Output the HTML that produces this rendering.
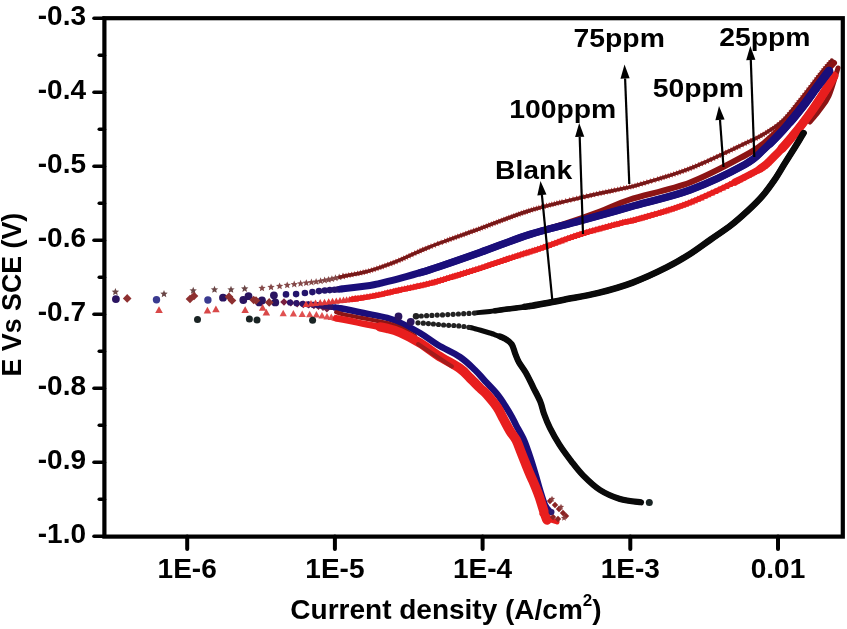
<!DOCTYPE html>
<html><head><meta charset="utf-8"><style>
html,body{margin:0;padding:0;background:#fff;}
svg{display:block;filter:blur(0.45px)}
.t{font-family:"Liberation Sans",sans-serif;font-weight:bold;font-size:28px;fill:#000}
.s{font-family:"Liberation Sans",sans-serif;font-weight:bold;font-size:26px;fill:#000}
</style></head><body>
<svg width="847" height="629" viewBox="0 0 847 629">
<path d="M284.0,298.2L287.8,302.0L284.0,305.8L280.2,302.0Z" fill="#7a2040"/>
<path d="M290.8,299.0L294.6,302.8L290.8,306.6L286.9,302.8Z" fill="#7a2040"/>
<path d="M297.2,299.9L301.0,303.7L297.2,307.5L293.4,303.7Z" fill="#7a2040"/>
<path d="M303.3,300.6L307.1,304.4L303.3,308.2L299.5,304.4Z" fill="#7a2040"/>
<path d="M308.7,301.0L312.5,304.8L308.7,308.6L304.9,304.8Z" fill="#7a2040"/>
<path d="M313.9,301.6L317.7,305.4L313.9,309.2L310.1,305.4Z" fill="#7a2040"/>
<path d="M318.5,302.4L322.3,306.2L318.5,310.0L314.7,306.2Z" fill="#7a2040"/>
<path d="M323.0,303.5L326.8,307.3L323.0,311.1L319.2,307.3Z" fill="#7a2040"/>
<path d="M326.9,304.9L330.7,308.7L326.9,312.5L323.1,308.7Z" fill="#7a2040"/>
<circle cx="290.0" cy="302.5" r="3.1" fill="#2e1468"/>
<circle cx="296.4" cy="303.2" r="3.1" fill="#2e1468"/>
<circle cx="302.7" cy="303.8" r="3.1" fill="#2e1468"/>
<circle cx="308.0" cy="304.3" r="3.1" fill="#2e1468"/>
<circle cx="313.0" cy="304.8" r="3.1" fill="#2e1468"/>
<circle cx="317.8" cy="305.2" r="3.1" fill="#2e1468"/>
<circle cx="322.1" cy="305.7" r="3.1" fill="#2e1468"/>
<circle cx="325.6" cy="306.2" r="3.1" fill="#2e1468"/>
<circle cx="329.0" cy="306.6" r="3.1" fill="#2e1468"/>
<circle cx="331.9" cy="307.0" r="3.1" fill="#2e1468"/>
<circle cx="334.8" cy="307.5" r="3.1" fill="#2e1468"/>
<circle cx="337.9" cy="307.9" r="3.1" fill="#2e1468"/>
<circle cx="341.1" cy="308.5" r="3.1" fill="#2e1468"/>
<circle cx="343.9" cy="309.0" r="3.1" fill="#2e1468"/>
<path d="M336.0,307.6C337.3,307.8 338.6,308.1 340.0,308.3C347.3,309.6 355.7,311.4 363.6,313.0C371.5,314.6 381.1,316.2 387.2,317.8C393.3,319.4 394.5,320.2 400.0,322.7C405.5,325.2 413.7,329.3 420.0,333.0C426.3,336.7 431.3,341.0 438.0,345.0C444.7,349.0 453.8,352.8 460.0,357.0C466.2,361.2 470.8,366.0 475.0,370.0C479.2,374.0 481.2,376.9 485.0,381.0C488.8,385.1 494.0,390.3 497.5,394.6C501.0,398.9 503.6,403.3 506.0,407.0C508.4,410.7 510.3,414.0 512.0,417.0C513.7,420.0 514.0,421.2 516.0,425.0C518.0,428.8 521.8,435.0 524.0,440.0C526.2,445.0 528.0,450.7 529.5,455.0C531.0,459.3 531.9,462.5 533.0,466.0C534.1,469.5 534.8,472.0 536.0,476.0C537.2,480.0 538.5,485.2 540.0,490.0C541.5,494.8 543.3,501.3 545.0,505.0C546.7,508.7 549.2,510.8 550.0,512.0" fill="none" stroke="#1a0e7a" stroke-width="6.5" stroke-linejoin="round" stroke-linecap="round"/>
<path d="M336.0,312.2C337.3,312.7 338.6,313.1 340.0,313.5C347.3,315.5 355.8,316.7 363.6,318.3C371.4,319.9 380.9,321.4 387.0,323.0C393.1,324.6 395.3,325.4 400.0,327.6C404.7,329.8 412.5,334.6 415.0,336.0" fill="none" stroke="#8c1414" stroke-width="4" stroke-linejoin="round" stroke-linecap="round"/>
<path d="M283.2,309.7L286.8,316.2L279.6,316.2Z" fill="#e05050"/>
<path d="M293.4,310.1L297.0,316.6L289.8,316.6Z" fill="#e05050"/>
<path d="M302.2,310.6L305.8,317.1L298.6,317.1Z" fill="#e05050"/>
<path d="M309.7,310.8L313.3,317.3L306.1,317.3Z" fill="#e05050"/>
<path d="M316.4,311.1L320.0,317.6L312.8,317.6Z" fill="#e05050"/>
<path d="M322.0,311.9L325.6,318.4L318.4,318.4Z" fill="#e05050"/>
<path d="M327.0,313.0L330.6,319.4L323.4,319.4Z" fill="#e05050"/>
<path d="M331.3,313.6L334.9,320.1L327.7,320.1Z" fill="#e05050"/>
<path d="M335.0,314.2L338.6,320.7L331.4,320.7Z" fill="#e05050"/>
<path d="M338.2,314.8L341.8,321.3L334.6,321.3Z" fill="#e05050"/>
<path d="M336.0,318.3C337.2,318.5 338.6,318.7 340.0,319.0C346.1,320.1 355.7,322.1 363.6,323.7C371.5,325.3 381.1,326.9 387.2,328.4C393.3,329.9 394.5,330.1 400.0,332.5C405.5,334.9 413.7,339.2 420.0,343.0C426.3,346.8 431.3,351.2 438.0,355.5C444.7,359.8 454.7,364.8 460.0,368.5C465.3,372.2 466.7,374.8 470.0,378.0C473.3,381.2 477.2,385.2 480.0,388.0C482.8,390.8 484.2,391.4 487.0,394.6C489.8,397.8 494.2,402.9 497.0,407.0C499.8,411.1 501.3,415.0 503.5,419.0C505.7,423.0 507.9,427.5 510.0,431.0C512.1,434.5 514.4,436.5 516.2,440.0C518.0,443.5 519.5,448.3 521.0,452.0C522.5,455.7 523.7,458.7 525.0,462.0C526.3,465.3 527.7,468.8 529.0,472.0C530.3,475.2 531.3,477.0 533.0,481.0C534.7,485.0 537.2,490.9 539.0,496.0C540.8,501.1 542.7,507.7 544.0,511.7C545.3,515.7 546.5,518.6 547.0,520.0" fill="none" stroke="#e81e1e" stroke-width="6.5" stroke-linejoin="round" stroke-linecap="round"/>
<path d="M380.0,326.9C382.7,327.4 385.1,327.9 387.2,328.4C393.3,329.9 394.5,330.1 400.0,332.5C405.5,334.9 413.7,339.2 420.0,343.0C426.3,346.8 431.3,351.2 438.0,355.5C444.7,359.8 454.7,364.8 460.0,368.5C465.3,372.2 466.7,374.8 470.0,378.0C473.3,381.2 477.2,385.2 480.0,388.0C482.8,390.8 484.2,391.4 487.0,394.6C489.8,397.8 494.2,402.9 497.0,407.0C499.8,411.1 501.3,415.0 503.5,419.0C505.7,423.0 507.9,427.5 510.0,431.0C512.1,434.5 514.4,436.5 516.2,440.0C518.0,443.5 519.5,448.3 521.0,452.0C522.5,455.7 523.7,458.7 525.0,462.0C526.3,465.3 527.7,468.8 529.0,472.0C530.3,475.2 531.3,477.0 533.0,481.0C534.7,485.0 537.2,490.9 539.0,496.0C540.8,501.1 542.7,507.7 544.0,511.7C545.3,515.7 546.5,518.6 547.0,520.0" fill="none" stroke="#e81e1e" stroke-width="9.5" stroke-linejoin="round" stroke-linecap="round"/>
<path d="M418.0,344.0C421.0,346.0 430.3,352.2 436.0,356.0C441.7,359.8 449.3,364.8 452.0,366.5" fill="none" stroke="#a41c1c" stroke-width="4" stroke-linejoin="round" stroke-linecap="round" />
<polygon points="262.0,284.4 263.0,286.8 265.6,287.0 263.6,288.7 264.2,291.3 262.0,289.9 259.8,291.3 260.4,288.7 258.4,287.0 261.0,286.8" fill="#844848"/>
<polygon points="271.0,283.4 272.1,285.8 274.7,286.0 272.7,287.7 273.3,290.2 271.0,288.9 268.8,290.2 269.4,287.7 267.4,286.0 270.0,285.8" fill="#844848"/>
<polygon points="279.6,282.4 280.6,284.8 283.2,285.0 281.2,286.7 281.9,289.2 279.6,287.9 277.4,289.2 278.0,286.7 276.0,285.0 278.6,284.8" fill="#844848"/>
<polygon points="287.2,281.4 288.2,283.8 290.8,284.1 288.8,285.8 289.5,288.3 287.2,286.9 285.0,288.3 285.6,285.8 283.6,284.1 286.2,283.8" fill="#844848"/>
<polygon points="294.2,280.5 295.2,283.0 297.9,283.2 295.9,284.9 296.5,287.4 294.2,286.0 292.0,287.4 292.6,284.9 290.6,283.2 293.2,283.0" fill="#844848"/>
<polygon points="300.6,279.8 301.6,282.2 304.2,282.4 302.2,284.1 302.9,286.7 300.6,285.3 298.4,286.7 299.0,284.1 297.0,282.4 299.6,282.2" fill="#844848"/>
<polygon points="306.3,279.2 307.3,281.6 309.9,281.8 307.9,283.5 308.5,286.1 306.3,284.7 304.0,286.1 304.6,283.5 302.7,281.8 305.3,281.6" fill="#844848"/>
<polygon points="311.4,278.6 312.4,281.0 315.1,281.2 313.1,282.9 313.7,285.5 311.4,284.1 309.2,285.5 309.8,282.9 307.8,281.2 310.4,281.0" fill="#844848"/>
<polygon points="316.1,278.0 317.1,280.4 319.7,280.6 317.7,282.3 318.3,284.8 316.1,283.5 313.8,284.8 314.4,282.3 312.4,280.6 315.1,280.4" fill="#844848"/>
<polygon points="320.6,277.3 321.6,279.7 324.2,279.9 322.2,281.6 322.8,284.2 320.6,282.8 318.3,284.2 318.9,281.6 316.9,279.9 319.6,279.7" fill="#844848"/>
<polygon points="324.6,276.6 325.6,279.0 328.3,279.2 326.3,280.9 326.9,283.5 324.6,282.1 322.4,283.5 323.0,280.9 321.0,279.2 323.6,279.0" fill="#844848"/>
<polygon points="328.4,275.9 329.4,278.3 332.0,278.6 330.0,280.3 330.6,282.8 328.4,281.4 326.1,282.8 326.7,280.3 324.8,278.6 327.4,278.3" fill="#844848"/>
<polygon points="331.9,275.2 332.9,277.6 335.5,277.8 333.6,279.5 334.2,282.0 331.9,280.7 329.7,282.0 330.3,279.5 328.3,277.8 330.9,277.6" fill="#844848"/>
<polygon points="335.4,274.3 336.4,276.8 339.0,277.0 337.0,278.7 337.7,281.2 335.4,279.8 333.2,281.2 333.8,278.7 331.8,277.0 334.4,276.8" fill="#844848"/>
<polygon points="339.2,273.5 340.2,275.9 342.8,276.1 340.8,277.8 341.4,280.3 339.2,279.0 336.9,280.3 337.5,277.8 335.5,276.1 338.1,275.9" fill="#844848"/>
<polygon points="343.0,272.6 344.0,275.0 346.6,275.2 344.6,276.9 345.2,279.5 343.0,278.1 340.8,279.5 341.4,276.9 339.4,275.2 342.0,275.0" fill="#844848"/>
<polygon points="343.0,273.1 343.9,275.2 346.1,275.4 344.4,276.9 344.9,279.1 343.0,277.9 341.1,279.1 341.6,276.9 339.9,275.4 342.1,275.2" fill="#b03a3a"/>
<polygon points="346.0,272.5 346.9,274.6 349.1,274.8 347.4,276.3 347.9,278.5 346.0,277.3 344.0,278.5 344.6,276.3 342.8,274.8 345.1,274.6" fill="#b03a3a"/>
<polygon points="348.7,272.0 349.6,274.1 351.9,274.2 350.1,275.7 350.7,277.9 348.7,276.8 346.8,277.9 347.3,275.7 345.6,274.2 347.9,274.1" fill="#b03a3a"/>
<polygon points="351.6,271.4 352.5,273.5 354.8,273.7 353.0,275.2 353.6,277.4 351.6,276.2 349.7,277.4 350.2,275.2 348.5,273.7 350.8,273.5" fill="#b03a3a"/>
<polygon points="354.6,270.9 355.5,273.0 357.7,273.1 356.0,274.6 356.5,276.8 354.6,275.6 352.7,276.8 353.2,274.6 351.5,273.1 353.7,273.0" fill="#b03a3a"/>
<polygon points="357.5,270.3 358.4,272.4 360.7,272.6 359.0,274.0 359.5,276.3 357.5,275.1 355.6,276.3 356.1,274.0 354.4,272.6 356.7,272.4" fill="#b03a3a"/>
<polygon points="360.4,269.7 361.3,271.8 363.5,272.0 361.8,273.5 362.3,275.7 360.4,274.5 358.4,275.7 359.0,273.5 357.2,272.0 359.5,271.8" fill="#b03a3a"/>
<polygon points="363.1,269.1 363.9,271.2 366.2,271.4 364.5,272.9 365.0,275.1 363.1,273.9 361.1,275.1 361.6,272.9 359.9,271.4 362.2,271.2" fill="#b03a3a"/>
<polygon points="365.9,268.5 366.8,270.6 369.0,270.8 367.3,272.2 367.8,274.5 365.9,273.3 364.0,274.5 364.5,272.2 362.8,270.8 365.0,270.6" fill="#b03a3a"/>
<polygon points="368.7,267.8 369.6,269.9 371.9,270.0 370.2,271.5 370.7,273.7 368.7,272.5 366.8,273.7 367.3,271.5 365.6,270.0 367.9,269.9" fill="#b03a3a"/>
<polygon points="371.3,267.1 372.1,269.1 374.4,269.3 372.7,270.8 373.2,273.0 371.3,271.8 369.3,273.0 369.9,270.8 368.1,269.3 370.4,269.1" fill="#b03a3a"/>
<polygon points="374.0,266.2 374.8,268.3 377.1,268.5 375.4,270.0 375.9,272.2 374.0,271.0 372.0,272.2 372.6,270.0 370.8,268.5 373.1,268.3" fill="#b03a3a"/>
<polygon points="376.8,265.3 377.7,267.4 379.9,267.6 378.2,269.1 378.7,271.3 376.8,270.1 374.9,271.3 375.4,269.1 373.7,267.6 375.9,267.4" fill="#b03a3a"/>
<polygon points="379.6,264.3 380.4,266.4 382.7,266.6 381.0,268.1 381.5,270.3 379.6,269.1 377.6,270.3 378.2,268.1 376.4,266.6 378.7,266.4" fill="#b03a3a"/>
<polygon points="382.2,263.4 383.1,265.5 385.3,265.7 383.6,267.2 384.1,269.4 382.2,268.2 380.3,269.4 380.8,267.2 379.1,265.7 381.3,265.5" fill="#b03a3a"/>
<polygon points="384.9,262.5 385.7,264.6 388.0,264.8 386.3,266.3 386.8,268.5 384.9,267.3 382.9,268.5 383.5,266.3 381.7,264.8 384.0,264.6" fill="#b03a3a"/>
<polygon points="387.6,261.5 388.5,263.6 390.8,263.8 389.0,265.3 389.6,267.5 387.6,266.3 385.7,267.5 386.2,265.3 384.5,263.8 386.8,263.6" fill="#b03a3a"/>
<polygon points="390.5,260.4 391.4,262.5 393.7,262.7 392.0,264.2 392.5,266.4 390.5,265.2 388.6,266.4 389.1,264.2 387.4,262.7 389.7,262.5" fill="#b03a3a"/>
<polygon points="393.1,259.5 394.0,261.6 396.2,261.7 394.5,263.2 395.0,265.4 393.1,264.2 391.2,265.4 391.7,263.2 390.0,261.7 392.2,261.6" fill="#b03a3a"/>
<polygon points="395.8,258.4 396.7,260.5 399.0,260.7 397.3,262.1 397.8,264.4 395.8,263.2 393.9,264.4 394.4,262.1 392.7,260.7 395.0,260.5" fill="#b03a3a"/>
<polygon points="398.8,257.2 399.6,259.3 401.9,259.5 400.2,261.0 400.7,263.2 398.8,262.0 396.8,263.2 397.4,261.0 395.6,259.5 397.9,259.3" fill="#b03a3a"/>
<polygon points="401.3,256.2 402.1,258.3 404.4,258.5 402.7,259.9 403.2,262.1 401.3,261.0 399.3,262.1 399.8,259.9 398.1,258.5 400.4,258.3" fill="#b03a3a"/>
<polygon points="403.8,255.1 404.6,257.2 406.9,257.4 405.2,258.8 405.7,261.0 403.8,259.9 401.8,261.0 402.4,258.8 400.6,257.4 402.9,257.2" fill="#b03a3a"/>
<polygon points="406.3,253.9 407.2,256.0 409.5,256.2 407.7,257.7 408.3,259.9 406.3,258.7 404.4,259.9 404.9,257.7 403.2,256.2 405.5,256.0" fill="#b03a3a"/>
<polygon points="409.0,252.7 409.8,254.8 412.1,255.0 410.4,256.5 410.9,258.7 409.0,257.5 407.0,258.7 407.6,256.5 405.8,255.0 408.1,254.8" fill="#b03a3a"/>
<polygon points="411.7,251.4 412.6,253.5 414.8,253.7 413.1,255.2 413.6,257.4 411.7,256.2 409.8,257.4 410.3,255.2 408.6,253.7 410.8,253.5" fill="#b03a3a"/>
<polygon points="414.6,250.1 415.5,252.2 417.7,252.4 416.0,253.9 416.5,256.1 414.6,254.9 412.6,256.1 413.2,253.9 411.4,252.4 413.7,252.2" fill="#b03a3a"/>
<polygon points="417.6,248.7 418.5,250.8 420.8,251.0 419.0,252.5 419.6,254.7 417.6,253.5 415.7,254.7 416.2,252.5 414.5,251.0 416.8,250.8" fill="#b03a3a"/>
<polygon points="420.0,247.6 420.9,249.7 423.2,249.9 421.4,251.4 422.0,253.6 420.0,252.4 418.1,253.6 418.6,251.4 416.9,249.9 419.2,249.7" fill="#b03a3a"/>
<polygon points="422.6,246.6 423.4,248.6 425.7,248.8 424.0,250.3 424.5,252.5 422.6,251.3 420.6,252.5 421.1,250.3 419.4,248.8 421.7,248.6" fill="#b03a3a"/>
<polygon points="425.2,245.4 426.1,247.5 428.4,247.7 426.6,249.2 427.2,251.4 425.2,250.2 423.3,251.4 423.8,249.2 422.1,247.7 424.4,247.5" fill="#b03a3a"/>
<polygon points="428.0,244.3 428.9,246.4 431.2,246.6 429.4,248.0 430.0,250.2 428.0,249.1 426.1,250.2 426.6,248.0 424.9,246.6 427.2,246.4" fill="#b03a3a"/>
<polygon points="431.0,243.1 431.9,245.2 434.2,245.4 432.4,246.9 433.0,249.1 431.0,247.9 429.1,249.1 429.6,246.9 427.9,245.4 430.1,245.2" fill="#b03a3a"/>
<polygon points="434.2,241.9 435.1,244.0 437.3,244.2 435.6,245.6 436.1,247.9 434.2,246.7 432.3,247.9 432.8,245.6 431.1,244.2 433.3,244.0" fill="#b03a3a"/>
<polygon points="437.6,240.6 438.4,242.7 440.7,242.9 439.0,244.4 439.5,246.6 437.6,245.4 435.6,246.6 436.1,244.4 434.4,242.9 436.7,242.7" fill="#b03a3a"/>
<polygon points="441.1,239.3 442.0,241.4 444.2,241.6 442.5,243.1 443.0,245.3 441.1,244.1 439.2,245.3 439.7,243.1 438.0,241.6 440.2,241.4" fill="#b03a3a"/>
<polygon points="444.8,238.0 445.6,240.1 447.9,240.2 446.2,241.7 446.7,243.9 444.8,242.7 442.8,243.9 443.4,241.7 441.6,240.2 443.9,240.1" fill="#b03a3a"/>
<polygon points="447.3,237.0 448.2,239.1 450.4,239.3 448.7,240.8 449.2,243.0 447.3,241.8 445.3,243.0 445.9,240.8 444.1,239.3 446.4,239.1" fill="#b03a3a"/>
<polygon points="449.8,236.1 450.7,238.2 453.0,238.4 451.3,239.9 451.8,242.1 449.8,240.9 447.9,242.1 448.4,239.9 446.7,238.4 449.0,238.2" fill="#b03a3a"/>
<polygon points="452.4,235.2 453.3,237.3 455.6,237.5 453.9,238.9 454.4,241.1 452.4,240.0 450.5,241.1 451.0,238.9 449.3,237.5 451.6,237.3" fill="#b03a3a"/>
<polygon points="455.1,234.2 455.9,236.3 458.2,236.5 456.5,238.0 457.0,240.2 455.1,239.0 453.1,240.2 453.7,238.0 451.9,236.5 454.2,236.3" fill="#b03a3a"/>
<polygon points="457.7,233.3 458.6,235.4 460.8,235.6 459.1,237.0 459.7,239.3 457.7,238.1 455.8,239.3 456.3,237.0 454.6,235.6 456.8,235.4" fill="#b03a3a"/>
<polygon points="460.4,232.3 461.2,234.4 463.5,234.6 461.8,236.1 462.3,238.3 460.4,237.1 458.4,238.3 459.0,236.1 457.2,234.6 459.5,234.4" fill="#b03a3a"/>
<polygon points="463.0,231.4 463.9,233.5 466.2,233.7 464.4,235.1 465.0,237.4 463.0,236.2 461.1,237.4 461.6,235.1 459.9,233.7 462.2,233.5" fill="#b03a3a"/>
<polygon points="465.7,230.4 466.6,232.5 468.8,232.7 467.1,234.2 467.6,236.4 465.7,235.2 463.8,236.4 464.3,234.2 462.6,232.7 464.8,232.5" fill="#b03a3a"/>
<polygon points="468.4,229.5 469.2,231.6 471.5,231.8 469.8,233.2 470.3,235.5 468.4,234.3 466.4,235.5 466.9,233.2 465.2,231.8 467.5,231.6" fill="#b03a3a"/>
<polygon points="471.0,228.5 471.9,230.6 474.1,230.8 472.4,232.3 472.9,234.5 471.0,233.3 469.1,234.5 469.6,232.3 467.9,230.8 470.1,230.6" fill="#b03a3a"/>
<polygon points="473.6,227.6 474.5,229.7 476.8,229.9 475.0,231.4 475.6,233.6 473.6,232.4 471.7,233.6 472.2,231.4 470.5,229.9 472.7,229.7" fill="#b03a3a"/>
<polygon points="476.2,226.7 477.1,228.8 479.3,229.0 477.6,230.4 478.1,232.6 476.2,231.5 474.3,232.6 474.8,230.4 473.1,229.0 475.3,228.8" fill="#b03a3a"/>
<polygon points="478.7,225.8 479.6,227.9 481.9,228.0 480.2,229.5 480.7,231.7 478.7,230.5 476.8,231.7 477.3,229.5 475.6,228.0 477.9,227.9" fill="#b03a3a"/>
<polygon points="481.2,224.8 482.1,226.9 484.4,227.1 482.7,228.6 483.2,230.8 481.2,229.6 479.3,230.8 479.8,228.6 478.1,227.1 480.4,226.9" fill="#b03a3a"/>
<polygon points="483.8,223.9 484.6,226.0 486.9,226.2 485.2,227.7 485.7,229.9 483.8,228.7 481.8,229.9 482.3,227.7 480.6,226.2 482.9,226.0" fill="#b03a3a"/>
<polygon points="486.2,223.0 487.1,225.1 489.4,225.3 487.7,226.8 488.2,229.0 486.2,227.8 484.3,229.0 484.8,226.8 483.1,225.3 485.4,225.1" fill="#b03a3a"/>
<polygon points="488.8,222.1 489.6,224.2 491.9,224.3 490.2,225.8 490.7,228.0 488.8,226.8 486.8,228.0 487.3,225.8 485.6,224.3 487.9,224.2" fill="#b03a3a"/>
<polygon points="491.3,221.1 492.1,223.2 494.4,223.4 492.7,224.9 493.2,227.1 491.3,225.9 489.3,227.1 489.8,224.9 488.1,223.4 490.4,223.2" fill="#b03a3a"/>
<polygon points="493.8,220.2 494.6,222.3 496.9,222.4 495.2,223.9 495.7,226.1 493.8,225.0 491.8,226.1 492.3,223.9 490.6,222.4 492.9,222.3" fill="#b03a3a"/>
<polygon points="496.3,219.2 497.1,221.3 499.4,221.5 497.7,223.0 498.2,225.2 496.3,224.0 494.3,225.2 494.8,223.0 493.1,221.5 495.4,221.3" fill="#b03a3a"/>
<polygon points="498.8,218.3 499.6,220.4 501.9,220.5 500.2,222.0 500.7,224.2 498.8,223.1 496.8,224.2 497.3,222.0 495.6,220.5 497.9,220.4" fill="#b03a3a"/>
<polygon points="501.2,217.3 502.1,219.4 504.4,219.6 502.7,221.1 503.2,223.3 501.2,222.1 499.3,223.3 499.8,221.1 498.1,219.6 500.4,219.4" fill="#b03a3a"/>
<polygon points="503.8,216.4 504.6,218.5 506.9,218.7 505.2,220.1 505.7,222.3 503.8,221.2 501.8,222.3 502.3,220.1 500.6,218.7 502.9,218.5" fill="#b03a3a"/>
<polygon points="506.2,215.4 507.1,217.5 509.4,217.7 507.7,219.2 508.2,221.4 506.2,220.2 504.3,221.4 504.8,219.2 503.1,217.7 505.4,217.5" fill="#b03a3a"/>
<polygon points="508.8,214.5 509.6,216.6 511.9,216.8 510.2,218.3 510.7,220.5 508.8,219.3 506.8,220.5 507.3,218.3 505.6,216.8 507.9,216.6" fill="#b03a3a"/>
<polygon points="511.2,213.6 512.1,215.7 514.4,215.9 512.7,217.3 513.2,219.6 511.2,218.4 509.3,219.6 509.8,217.3 508.1,215.9 510.4,215.7" fill="#b03a3a"/>
<polygon points="513.8,212.7 514.6,214.8 516.9,215.0 515.2,216.4 515.7,218.6 513.8,217.5 511.8,218.6 512.3,216.4 510.6,215.0 512.9,214.8" fill="#b03a3a"/>
<polygon points="516.2,211.8 517.1,213.9 519.4,214.1 517.7,215.5 518.2,217.8 516.2,216.6 514.3,217.8 514.8,215.5 513.1,214.1 515.4,213.9" fill="#b03a3a"/>
<polygon points="518.8,210.9 519.6,213.0 521.9,213.2 520.2,214.7 520.7,216.9 518.8,215.7 516.8,216.9 517.3,214.7 515.6,213.2 517.9,213.0" fill="#b03a3a"/>
<polygon points="521.2,210.0 522.1,212.1 524.4,212.3 522.7,213.8 523.2,216.0 521.2,214.8 519.3,216.0 519.8,213.8 518.1,212.3 520.4,212.1" fill="#b03a3a"/>
<polygon points="523.8,209.2 524.6,211.3 526.9,211.5 525.2,213.0 525.7,215.2 523.8,214.0 521.8,215.2 522.3,213.0 520.6,211.5 522.9,211.3" fill="#b03a3a"/>
<polygon points="526.2,208.4 527.1,210.5 529.4,210.7 527.7,212.1 528.2,214.4 526.2,213.2 524.3,214.4 524.8,212.1 523.1,210.7 525.4,210.5" fill="#b03a3a"/>
<polygon points="528.8,207.6 529.6,209.7 531.9,209.9 530.2,211.3 530.7,213.6 528.8,212.4 526.8,213.6 527.3,211.3 525.6,209.9 527.9,209.7" fill="#b03a3a"/>
<polygon points="531.3,206.8 532.1,208.9 534.4,209.1 532.7,210.6 533.2,212.8 531.3,211.6 529.3,212.8 529.8,210.6 528.1,209.1 530.4,208.9" fill="#b03a3a"/>
<polygon points="533.8,206.1 534.6,208.2 536.9,208.3 535.2,209.8 535.7,212.0 533.8,210.8 531.8,212.0 532.4,209.8 530.6,208.3 532.9,208.2" fill="#b03a3a"/>
<polygon points="536.3,205.3 537.2,207.4 539.5,207.6 537.7,209.1 538.3,211.3 536.3,210.1 534.4,211.3 534.9,209.1 533.2,207.6 535.4,207.4" fill="#b03a3a"/>
<polygon points="538.9,204.6 539.7,206.7 542.0,206.9 540.3,208.4 540.8,210.6 538.9,209.4 536.9,210.6 537.5,208.4 535.7,206.9 538.0,206.7" fill="#b03a3a"/>
<polygon points="541.4,203.9 542.3,206.0 544.6,206.2 542.9,207.7 543.4,209.9 541.4,208.7 539.5,209.9 540.0,207.7 538.3,206.2 540.6,206.0" fill="#b03a3a"/>
<polygon points="544.0,203.2 544.9,205.3 547.2,205.5 545.4,207.0 546.0,209.2 544.0,208.0 542.1,209.2 542.6,207.0 540.9,205.5 543.2,205.3" fill="#b03a3a"/>
<polygon points="546.6,202.5 547.5,204.6 549.7,204.8 548.0,206.3 548.5,208.5 546.6,207.3 544.7,208.5 545.2,206.3 543.5,204.8 545.7,204.6" fill="#b03a3a"/>
<polygon points="549.2,201.9 550.1,204.0 552.3,204.1 550.6,205.6 551.1,207.8 549.2,206.7 547.2,207.8 547.8,205.6 546.1,204.1 548.3,204.0" fill="#b03a3a"/>
<polygon points="551.8,201.2 552.6,203.3 554.9,203.5 553.2,205.0 553.7,207.2 551.8,206.0 549.8,207.2 550.4,205.0 548.6,203.5 550.9,203.3" fill="#b03a3a"/>
<polygon points="554.3,200.6 555.2,202.7 557.5,202.9 555.8,204.3 556.3,206.5 554.3,205.4 552.4,206.5 552.9,204.3 551.2,202.9 553.5,202.7" fill="#b03a3a"/>
<polygon points="556.9,200.0 557.8,202.0 560.0,202.2 558.3,203.7 558.8,205.9 556.9,204.7 555.0,205.9 555.5,203.7 553.8,202.2 556.0,202.0" fill="#b03a3a"/>
<polygon points="559.5,199.3 560.3,201.4 562.6,201.6 560.9,203.1 561.4,205.3 559.5,204.1 557.5,205.3 558.0,203.1 556.3,201.6 558.6,201.4" fill="#b03a3a"/>
<polygon points="562.0,198.7 562.9,200.8 565.1,201.0 563.4,202.5 563.9,204.7 562.0,203.5 560.0,204.7 560.6,202.5 558.8,201.0 561.1,200.8" fill="#b03a3a"/>
<polygon points="565.7,197.8 566.6,199.9 568.9,200.1 567.1,201.6 567.7,203.8 565.7,202.6 563.8,203.8 564.3,201.6 562.6,200.1 564.9,199.9" fill="#b03a3a"/>
<polygon points="569.4,197.0 570.3,199.1 572.6,199.3 570.8,200.7 571.4,203.0 569.4,201.8 567.5,203.0 568.0,200.7 566.3,199.3 568.6,199.1" fill="#b03a3a"/>
<polygon points="573.0,196.1 573.9,198.2 576.2,198.4 574.5,199.9 575.0,202.1 573.0,200.9 571.1,202.1 571.6,199.9 569.9,198.4 572.2,198.2" fill="#b03a3a"/>
<polygon points="576.6,195.3 577.4,197.4 579.7,197.6 578.0,199.1 578.5,201.3 576.6,200.1 574.6,201.3 575.2,199.1 573.4,197.6 575.7,197.4" fill="#b03a3a"/>
<polygon points="580.0,194.5 580.9,196.6 583.1,196.8 581.4,198.3 581.9,200.5 580.0,199.3 578.1,200.5 578.6,198.3 576.9,196.8 579.1,196.6" fill="#b03a3a"/>
<polygon points="583.4,193.7 584.2,195.8 586.5,196.0 584.8,197.5 585.3,199.7 583.4,198.5 581.4,199.7 582.0,197.5 580.2,196.0 582.5,195.8" fill="#b03a3a"/>
<polygon points="586.7,192.9 587.6,195.0 589.9,195.2 588.1,196.7 588.7,198.9 586.7,197.7 584.8,198.9 585.3,196.7 583.6,195.2 585.9,195.0" fill="#b03a3a"/>
<polygon points="590.1,192.2 590.9,194.3 593.2,194.5 591.5,196.0 592.0,198.2 590.1,197.0 588.1,198.2 588.7,196.0 586.9,194.5 589.2,194.3" fill="#b03a3a"/>
<polygon points="593.4,191.5 594.2,193.6 596.5,193.8 594.8,195.2 595.3,197.4 593.4,196.3 591.4,197.4 592.0,195.2 590.2,193.8 592.5,193.6" fill="#b03a3a"/>
<polygon points="596.6,190.8 597.5,192.9 599.7,193.1 598.0,194.5 598.6,196.7 596.6,195.6 594.7,196.7 595.2,194.5 593.5,193.1 595.7,192.9" fill="#b03a3a"/>
<polygon points="599.8,190.1 600.7,192.2 602.9,192.4 601.2,193.9 601.7,196.1 599.8,194.9 597.9,196.1 598.4,193.9 596.7,192.4 598.9,192.2" fill="#b03a3a"/>
<polygon points="602.9,189.4 603.8,191.5 606.0,191.7 604.3,193.2 604.8,195.4 602.9,194.2 601.0,195.4 601.5,193.2 599.8,191.7 602.0,191.5" fill="#b03a3a"/>
<polygon points="605.9,188.8 606.8,190.9 609.1,191.1 607.3,192.6 607.9,194.8 605.9,193.6 604.0,194.8 604.5,192.6 602.8,191.1 605.0,190.9" fill="#b03a3a"/>
<polygon points="608.8,188.2 609.7,190.3 612.0,190.5 610.2,192.0 610.8,194.2 608.8,193.0 606.9,194.2 607.4,192.0 605.7,190.5 608.0,190.3" fill="#b03a3a"/>
<polygon points="611.6,187.6 612.5,189.7 614.8,189.9 613.1,191.4 613.6,193.6 611.6,192.4 609.7,193.6 610.2,191.4 608.5,189.9 610.8,189.7" fill="#b03a3a"/>
<polygon points="614.3,187.0 615.2,189.1 617.5,189.3 615.7,190.8 616.3,193.0 614.3,191.8 612.4,193.0 612.9,190.8 611.2,189.3 613.4,189.1" fill="#b03a3a"/>
<polygon points="617.7,186.3 618.5,188.4 620.8,188.6 619.1,190.1 619.6,192.3 617.7,191.1 615.7,192.3 616.3,190.1 614.5,188.6 616.8,188.4" fill="#b03a3a"/>
<polygon points="620.7,185.6 621.6,187.7 623.9,187.9 622.1,189.4 622.7,191.6 620.7,190.4 618.8,191.6 619.3,189.4 617.6,187.9 619.9,187.7" fill="#b03a3a"/>
<polygon points="623.8,185.0 624.7,187.1 626.9,187.3 625.2,188.7 625.7,190.9 623.8,189.8 621.9,190.9 622.4,188.7 620.7,187.3 622.9,187.1" fill="#b03a3a"/>
<polygon points="626.5,184.4 627.4,186.5 629.7,186.7 627.9,188.2 628.5,190.4 626.5,189.2 624.6,190.4 625.1,188.2 623.4,186.7 625.7,186.5" fill="#b03a3a"/>
<polygon points="629.4,183.8 630.2,185.9 632.5,186.1 630.8,187.6 631.3,189.8 629.4,188.6 627.4,189.8 628.0,187.6 626.2,186.1 628.5,185.9" fill="#b03a3a"/>
<polygon points="632.0,183.2 632.9,185.3 635.1,185.5 633.4,187.0 633.9,189.2 632.0,188.0 630.1,189.2 630.6,187.0 628.9,185.5 631.1,185.3" fill="#b03a3a"/>
<polygon points="635.0,182.4 635.8,184.5 638.1,184.7 636.4,186.2 636.9,188.4 635.0,187.2 633.0,188.4 633.6,186.2 631.8,184.7 634.1,184.5" fill="#b03a3a"/>
<polygon points="637.6,181.7 638.5,183.8 640.7,184.0 639.0,185.5 639.5,187.7 637.6,186.5 635.6,187.7 636.2,185.5 634.5,184.0 636.7,183.8" fill="#b03a3a"/>
<polygon points="640.9,180.7 641.8,182.8 644.0,183.0 642.3,184.5 642.8,186.7 640.9,185.5 639.0,186.7 639.5,184.5 637.8,183.0 640.0,182.8" fill="#b03a3a"/>
<polygon points="643.8,179.9 644.6,182.0 646.9,182.2 645.2,183.7 645.7,185.9 643.8,184.7 641.8,185.9 642.4,183.7 640.6,182.2 642.9,182.0" fill="#b03a3a"/>
<polygon points="646.9,179.0 647.8,181.1 650.0,181.3 648.3,182.8 648.8,185.0 646.9,183.8 645.0,185.0 645.5,182.8 643.8,181.3 646.0,181.1" fill="#b03a3a"/>
<polygon points="650.3,178.0 651.1,180.1 653.4,180.3 651.7,181.8 652.2,184.0 650.3,182.8 648.3,184.0 648.9,181.8 647.1,180.3 649.4,180.1" fill="#b03a3a"/>
<polygon points="653.9,177.0 654.7,179.1 657.0,179.3 655.3,180.8 655.8,183.0 653.9,181.8 651.9,183.0 652.4,180.8 650.7,179.3 653.0,179.1" fill="#b03a3a"/>
<polygon points="657.6,175.9 658.5,178.0 660.7,178.2 659.0,179.7 659.5,181.9 657.6,180.7 655.7,181.9 656.2,179.7 654.5,178.2 656.7,178.0" fill="#b03a3a"/>
<polygon points="660.2,175.2 661.1,177.2 663.3,177.4 661.6,178.9 662.1,181.1 660.2,179.9 658.2,181.1 658.8,178.9 657.0,177.4 659.3,177.2" fill="#b03a3a"/>
<polygon points="662.8,174.4 663.7,176.5 666.0,176.6 664.2,178.1 664.8,180.3 662.8,179.1 660.9,180.3 661.4,178.1 659.7,176.6 661.9,176.5" fill="#b03a3a"/>
<polygon points="665.5,173.5 666.4,175.6 668.6,175.8 666.9,177.3 667.4,179.5 665.5,178.3 663.5,179.5 664.1,177.3 662.4,175.8 664.6,175.6" fill="#b03a3a"/>
<polygon points="668.2,172.7 669.1,174.8 671.3,175.0 669.6,176.5 670.1,178.7 668.2,177.5 666.3,178.7 666.8,176.5 665.1,175.0 667.3,174.8" fill="#b03a3a"/>
<polygon points="670.9,171.8 671.8,173.9 674.1,174.1 672.3,175.6 672.9,177.8 670.9,176.6 669.0,177.8 669.5,175.6 667.8,174.1 670.1,173.9" fill="#b03a3a"/>
<polygon points="673.7,171.0 674.6,173.1 676.8,173.2 675.1,174.7 675.6,176.9 673.7,175.7 671.7,176.9 672.3,174.7 670.5,173.2 672.8,173.1" fill="#b03a3a"/>
<polygon points="676.4,170.1 677.3,172.2 679.6,172.3 677.9,173.8 678.4,176.0 676.4,174.8 674.5,176.0 675.0,173.8 673.3,172.3 675.6,172.2" fill="#b03a3a"/>
<polygon points="679.2,169.1 680.1,171.2 682.3,171.4 680.6,172.9 681.1,175.1 679.2,173.9 677.3,175.1 677.8,172.9 676.1,171.4 678.3,171.2" fill="#b03a3a"/>
<polygon points="681.9,168.2 682.8,170.3 685.1,170.5 683.4,171.9 683.9,174.1 681.9,173.0 680.0,174.1 680.5,171.9 678.8,170.5 681.1,170.3" fill="#b03a3a"/>
<polygon points="684.7,167.2 685.5,169.3 687.8,169.5 686.1,171.0 686.6,173.2 684.7,172.0 682.7,173.2 683.3,171.0 681.5,169.5 683.8,169.3" fill="#b03a3a"/>
<polygon points="687.4,166.2 688.2,168.3 690.5,168.5 688.8,170.0 689.3,172.2 687.4,171.0 685.4,172.2 685.9,170.0 684.2,168.5 686.5,168.3" fill="#b03a3a"/>
<polygon points="690.0,165.2 690.9,167.3 693.1,167.5 691.4,169.0 691.9,171.2 690.0,170.0 688.1,171.2 688.6,169.0 686.9,167.5 689.1,167.3" fill="#b03a3a"/>
<polygon points="692.7,164.1 693.6,166.2 695.8,166.4 694.1,167.9 694.6,170.1 692.7,168.9 690.7,170.1 691.3,167.9 689.5,166.4 691.8,166.2" fill="#b03a3a"/>
<polygon points="695.5,163.0 696.3,165.1 698.6,165.3 696.9,166.8 697.4,169.0 695.5,167.8 693.5,169.0 694.0,166.8 692.3,165.3 694.6,165.1" fill="#b03a3a"/>
<polygon points="698.3,161.8 699.2,163.9 701.5,164.1 699.7,165.6 700.3,167.8 698.3,166.6 696.4,167.8 696.9,165.6 695.2,164.1 697.5,163.9" fill="#b03a3a"/>
<polygon points="701.3,160.5 702.1,162.6 704.4,162.8 702.7,164.3 703.2,166.5 701.3,165.3 699.3,166.5 699.8,164.3 698.1,162.8 700.4,162.6" fill="#b03a3a"/>
<polygon points="704.2,159.2 705.1,161.3 707.4,161.5 705.7,163.0 706.2,165.2 704.2,164.0 702.3,165.2 702.8,163.0 701.1,161.5 703.4,161.3" fill="#b03a3a"/>
<polygon points="707.3,157.9 708.1,160.0 710.4,160.2 708.7,161.6 709.2,163.9 707.3,162.7 705.3,163.9 705.9,161.6 704.1,160.2 706.4,160.0" fill="#b03a3a"/>
<polygon points="710.3,156.5 711.2,158.6 713.5,158.8 711.7,160.3 712.3,162.5 710.3,161.3 708.4,162.5 708.9,160.3 707.2,158.8 709.4,158.6" fill="#b03a3a"/>
<polygon points="713.4,155.1 714.2,157.2 716.5,157.4 714.8,158.9 715.3,161.1 713.4,159.9 711.4,161.1 712.0,158.9 710.2,157.4 712.5,157.2" fill="#b03a3a"/>
<polygon points="716.4,153.7 717.3,155.8 719.6,156.0 717.8,157.5 718.4,159.7 716.4,158.5 714.5,159.7 715.0,157.5 713.3,156.0 715.5,155.8" fill="#b03a3a"/>
<polygon points="719.4,152.3 720.3,154.4 722.6,154.6 720.8,156.1 721.4,158.3 719.4,157.1 717.5,158.3 718.0,156.1 716.3,154.6 718.6,154.4" fill="#b03a3a"/>
<polygon points="722.4,150.9 723.3,153.0 725.6,153.2 723.8,154.7 724.4,156.9 722.4,155.7 720.5,156.9 721.0,154.7 719.3,153.2 721.5,153.0" fill="#b03a3a"/>
<polygon points="725.4,149.5 726.2,151.6 728.5,151.8 726.8,153.3 727.3,155.5 725.4,154.3 723.4,155.5 723.9,153.3 722.2,151.8 724.5,151.6" fill="#b03a3a"/>
<polygon points="728.2,148.2 729.1,150.3 731.4,150.5 729.6,151.9 730.2,154.1 728.2,153.0 726.3,154.1 726.8,151.9 725.1,150.5 727.3,150.3" fill="#b03a3a"/>
<polygon points="731.0,146.9 731.9,148.9 734.1,149.1 732.4,150.6 732.9,152.8 731.0,151.6 729.0,152.8 729.6,150.6 727.9,149.1 730.1,148.9" fill="#b03a3a"/>
<polygon points="733.7,145.6 734.5,147.7 736.8,147.9 735.1,149.3 735.6,151.5 733.7,150.4 731.7,151.5 732.3,149.3 730.5,147.9 732.8,147.7" fill="#b03a3a"/>
<polygon points="736.2,144.4 737.1,146.5 739.4,146.6 737.6,148.1 738.2,150.3 736.2,149.1 734.3,150.3 734.8,148.1 733.1,146.6 735.4,146.5" fill="#b03a3a"/>
<polygon points="738.7,143.2 739.5,145.3 741.8,145.5 740.1,147.0 740.6,149.2 738.7,148.0 736.7,149.2 737.2,147.0 735.5,145.5 737.8,145.3" fill="#b03a3a"/>
<polygon points="742.0,141.6 742.9,143.7 745.2,143.9 743.4,145.4 744.0,147.6 742.0,146.4 740.1,147.6 740.6,145.4 738.9,143.9 741.1,143.7" fill="#b03a3a"/>
<polygon points="745.0,140.2 745.9,142.3 748.1,142.5 746.4,144.0 746.9,146.2 745.0,145.0 743.1,146.2 743.6,144.0 741.9,142.5 744.1,142.3" fill="#b03a3a"/>
<polygon points="747.6,139.0 748.5,141.1 750.7,141.3 749.0,142.8 749.5,145.0 747.6,143.8 745.6,145.0 746.2,142.8 744.4,141.3 746.7,141.1" fill="#b03a3a"/>
<polygon points="750.5,137.7 751.3,139.8 753.6,139.9 751.9,141.4 752.4,143.6 750.5,142.4 748.5,143.6 749.1,141.4 747.3,139.9 749.6,139.8" fill="#b03a3a"/>
<polygon points="753.3,136.3 754.2,138.4 756.5,138.6 754.8,140.1 755.3,142.3 753.3,141.1 751.4,142.3 751.9,140.1 750.2,138.6 752.5,138.4" fill="#b03a3a"/>
<polygon points="756.0,135.1 756.9,137.2 759.1,137.4 757.4,138.8 757.9,141.1 756.0,139.9 754.1,141.1 754.6,138.8 752.9,137.4 755.1,137.2" fill="#b03a3a"/>
<polygon points="758.5,133.9 759.3,136.0 761.6,136.1 759.9,137.6 760.4,139.8 758.5,138.7 756.5,139.8 757.0,137.6 755.3,136.1 757.6,136.0" fill="#b03a3a"/>
<polygon points="760.8,132.6 761.6,134.7 763.9,134.9 762.2,136.4 762.7,138.6 760.8,137.4 758.8,138.6 759.4,136.4 757.6,134.9 759.9,134.7" fill="#b03a3a"/>
<polygon points="763.1,131.2 764.0,133.3 766.2,133.5 764.5,135.0 765.0,137.2 763.1,136.0 761.2,137.2 761.7,135.0 760.0,133.5 762.2,133.3" fill="#b03a3a"/>
<polygon points="765.4,129.8 766.3,131.9 768.6,132.1 766.8,133.6 767.4,135.8 765.4,134.6 763.5,135.8 764.0,133.6 762.3,132.1 764.6,131.9" fill="#b03a3a"/>
<polygon points="767.8,128.4 768.7,130.5 770.9,130.7 769.2,132.2 769.7,134.4 767.8,133.2 765.9,134.4 766.4,132.2 764.7,130.7 766.9,130.5" fill="#b03a3a"/>
<polygon points="770.2,127.0 771.0,129.1 773.3,129.3 771.6,130.7 772.1,132.9 770.2,131.8 768.2,132.9 768.8,130.7 767.0,129.3 769.3,129.1" fill="#b03a3a"/>
<polygon points="772.6,125.5 773.4,127.6 775.7,127.7 774.0,129.2 774.5,131.4 772.6,130.2 770.6,131.4 771.1,129.2 769.4,127.7 771.7,127.6" fill="#b03a3a"/>
<polygon points="774.9,123.9 775.8,126.0 778.1,126.1 776.3,127.6 776.9,129.8 774.9,128.6 773.0,129.8 773.5,127.6 771.8,126.1 774.1,126.0" fill="#b03a3a"/>
<polygon points="777.3,122.1 778.2,124.2 780.4,124.4 778.7,125.9 779.2,128.1 777.3,126.9 775.4,128.1 775.9,125.9 774.2,124.4 776.4,124.2" fill="#b03a3a"/>
<polygon points="779.7,120.3 780.5,122.4 782.8,122.5 781.1,124.0 781.6,126.2 779.7,125.0 777.7,126.2 778.3,124.0 776.5,122.5 778.8,122.4" fill="#b03a3a"/>
<polygon points="782.0,118.2 782.9,120.3 785.2,120.5 783.5,121.9 784.0,124.2 782.0,123.0 780.1,124.2 780.6,121.9 778.9,120.5 781.2,120.3" fill="#b03a3a"/>
<polygon points="783.9,116.4 784.8,118.5 787.1,118.7 785.4,120.1 785.9,122.3 783.9,121.2 782.0,122.3 782.5,120.1 780.8,118.7 783.1,118.5" fill="#b03a3a"/>
<polygon points="785.8,114.4 786.7,116.5 789.0,116.7 787.3,118.2 787.8,120.4 785.8,119.2 783.9,120.4 784.4,118.2 782.7,116.7 785.0,116.5" fill="#b03a3a"/>
<polygon points="787.8,112.3 788.6,114.4 790.9,114.6 789.2,116.0 789.7,118.3 787.8,117.1 785.8,118.3 786.3,116.0 784.6,114.6 786.9,114.4" fill="#b03a3a"/>
<polygon points="789.6,110.1 790.5,112.2 792.8,112.3 791.1,113.8 791.6,116.0 789.6,114.8 787.7,116.0 788.2,113.8 786.5,112.3 788.8,112.2" fill="#b03a3a"/>
<polygon points="791.6,107.7 792.4,109.8 794.7,110.0 793.0,111.5 793.5,113.7 791.6,112.5 789.6,113.7 790.1,111.5 788.4,110.0 790.7,109.8" fill="#b03a3a"/>
<polygon points="793.4,105.4 794.3,107.5 796.6,107.6 794.9,109.1 795.4,111.3 793.4,110.1 791.5,111.3 792.0,109.1 790.3,107.6 792.6,107.5" fill="#b03a3a"/>
<polygon points="795.3,102.9 796.2,105.0 798.5,105.2 796.8,106.7 797.3,108.9 795.3,107.7 793.4,108.9 793.9,106.7 792.2,105.2 794.5,105.0" fill="#b03a3a"/>
<polygon points="797.2,100.5 798.1,102.6 800.4,102.8 798.7,104.2 799.2,106.4 797.2,105.3 795.3,106.4 795.8,104.2 794.1,102.8 796.4,102.6" fill="#b03a3a"/>
<polygon points="799.2,98.0 800.0,100.1 802.3,100.3 800.6,101.8 801.1,104.0 799.2,102.8 797.2,104.0 797.7,101.8 796.0,100.3 798.3,100.1" fill="#b03a3a"/>
<polygon points="801.1,95.6 801.9,97.7 804.2,97.9 802.5,99.4 803.0,101.6 801.1,100.4 799.1,101.6 799.6,99.4 797.9,97.9 800.2,97.7" fill="#b03a3a"/>
<polygon points="803.0,93.2 803.8,95.3 806.1,95.5 804.4,97.0 804.9,99.2 803.0,98.0 801.0,99.2 801.5,97.0 799.8,95.5 802.1,95.3" fill="#b03a3a"/>
<polygon points="804.9,90.7 805.8,92.8 808.1,93.0 806.3,94.4 806.9,96.7 804.9,95.5 803.0,96.7 803.5,94.4 801.8,93.0 804.1,92.8" fill="#b03a3a"/>
<polygon points="806.9,88.1 807.8,90.2 810.1,90.4 808.3,91.8 808.9,94.0 806.9,92.9 805.0,94.0 805.5,91.8 803.8,90.4 806.1,90.2" fill="#b03a3a"/>
<polygon points="809.0,85.4 809.8,87.5 812.1,87.7 810.4,89.2 810.9,91.4 809.0,90.2 807.0,91.4 807.6,89.2 805.8,87.7 808.1,87.5" fill="#b03a3a"/>
<polygon points="811.0,82.8 811.9,84.9 814.1,85.0 812.4,86.5 812.9,88.7 811.0,87.5 809.1,88.7 809.6,86.5 807.9,85.0 810.1,84.9" fill="#b03a3a"/>
<polygon points="813.0,80.1 813.9,82.2 816.1,82.4 814.4,83.9 814.9,86.1 813.0,84.9 811.1,86.1 811.6,83.9 809.9,82.4 812.1,82.2" fill="#b03a3a"/>
<polygon points="814.9,77.6 815.8,79.7 818.1,79.8 816.4,81.3 816.9,83.5 814.9,82.3 813.0,83.5 813.5,81.3 811.8,79.8 814.1,79.7" fill="#b03a3a"/>
<polygon points="816.8,75.1 817.7,77.2 820.0,77.4 818.2,78.9 818.8,81.1 816.8,79.9 814.9,81.1 815.4,78.9 813.7,77.4 815.9,77.2" fill="#b03a3a"/>
<polygon points="818.6,72.8 819.5,74.9 821.7,75.1 820.0,76.5 820.5,78.8 818.6,77.6 816.6,78.8 817.2,76.5 815.4,75.1 817.7,74.9" fill="#b03a3a"/>
<polygon points="820.2,70.7 821.1,72.8 823.4,73.0 821.6,74.4 822.2,76.6 820.2,75.5 818.3,76.6 818.8,74.4 817.1,73.0 819.4,72.8" fill="#b03a3a"/>
<polygon points="822.1,68.3 823.0,70.4 825.2,70.6 823.5,72.1 824.0,74.3 822.1,73.1 820.2,74.3 820.7,72.1 819.0,70.6 821.2,70.4" fill="#b03a3a"/>
<polygon points="823.9,66.1 824.8,68.2 827.0,68.4 825.3,69.9 825.8,72.1 823.9,70.9 821.9,72.1 822.5,69.9 820.7,68.4 823.0,68.2" fill="#b03a3a"/>
<polygon points="825.6,64.1 826.4,66.2 828.7,66.4 827.0,67.9 827.5,70.1 825.6,68.9 823.6,70.1 824.1,67.9 822.4,66.4 824.7,66.2" fill="#b03a3a"/>
<polygon points="827.4,62.0 828.3,64.1 830.5,64.3 828.8,65.7 829.3,68.0 827.4,66.8 825.5,68.0 826.0,65.7 824.3,64.3 826.5,64.1" fill="#b03a3a"/>
<polygon points="829.3,59.8 830.2,61.9 832.4,62.1 830.7,63.6 831.2,65.8 829.3,64.6 827.3,65.8 827.9,63.6 826.1,62.1 828.4,61.9" fill="#b03a3a"/>
<polygon points="831.0,57.8 831.9,59.9 834.2,60.1 832.4,61.6 833.0,63.8 831.0,62.6 829.1,63.8 829.6,61.6 827.9,60.1 830.1,59.9" fill="#b03a3a"/>
<path d="M340.0,277.1C340.9,276.8 341.9,276.6 343.0,276.4C349.2,275.1 358.8,273.5 365.0,272.0C371.2,270.5 374.2,269.5 380.0,267.5C385.8,265.5 391.7,263.4 400.0,260.0C408.3,256.6 416.7,252.0 430.0,246.8C443.3,241.6 463.3,234.7 480.0,228.6C496.7,222.5 513.3,215.6 530.0,210.5C546.7,205.4 565.0,201.4 580.0,197.8C595.0,194.2 610.0,191.3 620.0,189.1C630.0,186.8 628.3,187.7 640.0,184.3C651.7,180.9 672.5,175.3 690.0,168.5C707.5,161.7 732.7,149.2 745.0,143.5C757.3,137.8 757.7,137.8 764.0,134.0C770.3,130.2 776.7,126.6 783.0,120.6C789.3,114.5 795.7,105.6 802.0,97.7C808.3,89.8 816.0,79.3 821.0,73.0C826.0,66.7 830.2,62.2 832.0,60.0" fill="none" stroke="#761818" stroke-width="3.4" stroke-linejoin="round" stroke-linecap="round"/>
<path d="M540.0,231.0C544.0,229.9 554.0,227.4 564.0,224.2C574.0,220.9 589.0,215.6 600.0,211.5C611.0,207.4 615.0,204.3 630.0,199.5C645.0,194.7 670.8,189.8 690.0,182.5C709.2,175.2 732.7,162.1 745.0,155.5C757.3,148.9 757.7,148.1 764.0,143.0C770.3,137.9 776.7,131.8 783.0,125.0C789.3,118.2 795.7,110.0 802.0,102.0C808.3,94.0 815.7,83.5 821.0,77.0C826.3,70.5 831.8,65.3 834.0,63.0" fill="none" stroke="#8c1414" stroke-width="6" stroke-linejoin="round" stroke-linecap="round" />
<path d="M810.0,122.0C811.5,120.2 815.8,115.3 819.0,111.0C822.2,106.7 825.8,103.2 829.0,96.0C832.2,88.8 836.5,72.7 838.0,68.0" fill="none" stroke="#8c1414" stroke-width="5" stroke-linejoin="round" stroke-linecap="round" />
<path d="M306.0,300.7L309.5,307.0L302.5,307.0Z" fill="#e03a3a"/>
<path d="M311.0,300.1L314.5,306.4L307.5,306.4Z" fill="#e03a3a"/>
<path d="M315.5,299.6L319.0,305.9L312.0,305.9Z" fill="#e03a3a"/>
<path d="M320.2,299.1L323.7,305.4L316.7,305.4Z" fill="#e03a3a"/>
<path d="M324.5,298.7L328.0,305.0L321.0,305.0Z" fill="#e03a3a"/>
<path d="M328.7,298.2L332.2,304.5L325.2,304.5Z" fill="#e03a3a"/>
<path d="M332.5,297.8L336.0,304.1L329.0,304.1Z" fill="#e03a3a"/>
<path d="M336.3,297.4L339.8,303.7L332.8,303.7Z" fill="#e03a3a"/>
<path d="M340.0,297.0L343.5,303.3L336.5,303.3Z" fill="#e03a3a"/>
<path d="M343.5,296.6L347.0,302.9L340.0,302.9Z" fill="#e03a3a"/>
<path d="M346.6,296.2L350.1,302.5L343.1,302.5Z" fill="#e03a3a"/>
<path d="M349.5,295.9L353.0,302.2L346.0,302.2Z" fill="#e03a3a"/>
<path d="M352.5,295.5L356.0,301.8L349.0,301.8Z" fill="#e03a3a"/>
<path d="M355.5,295.1L359.0,301.4L352.0,301.4Z" fill="#e03a3a"/>
<path d="M352.0,295.6L355.5,301.9L348.5,301.9Z" fill="#e83030"/>
<path d="M355.0,295.1L358.5,301.4L351.5,301.4Z" fill="#e83030"/>
<path d="M358.0,294.7L361.5,301.0L354.5,301.0Z" fill="#e83030"/>
<path d="M361.0,294.3L364.5,300.6L357.5,300.6Z" fill="#e83030"/>
<path d="M364.0,293.8L367.5,300.1L360.5,300.1Z" fill="#e83030"/>
<path d="M367.0,293.3L370.5,299.6L363.5,299.6Z" fill="#e83030"/>
<path d="M370.0,292.7L373.5,299.0L366.5,299.0Z" fill="#e83030"/>
<path d="M373.0,292.2L376.5,298.5L369.5,298.5Z" fill="#e83030"/>
<path d="M376.0,291.6L379.5,297.9L372.5,297.9Z" fill="#e83030"/>
<path d="M379.0,291.0L382.5,297.3L375.5,297.3Z" fill="#e83030"/>
<path d="M382.0,290.4L385.5,296.7L378.5,296.7Z" fill="#e83030"/>
<path d="M384.8,289.8L388.3,296.1L381.3,296.1Z" fill="#e83030"/>
<path d="M387.5,289.1L391.0,295.4L384.0,295.4Z" fill="#e83030"/>
<path d="M390.3,288.5L393.8,294.8L386.8,294.8Z" fill="#e83030"/>
<path d="M393.3,287.8L396.8,294.1L389.8,294.1Z" fill="#e83030"/>
<path d="M395.9,287.2L399.4,293.5L392.4,293.5Z" fill="#e83030"/>
<path d="M398.8,286.5L402.3,292.8L395.3,292.8Z" fill="#e83030"/>
<path d="M401.9,285.8L405.4,292.1L398.4,292.1Z" fill="#e83030"/>
<path d="M404.7,285.2L408.2,291.5L401.2,291.5Z" fill="#e83030"/>
<path d="M407.7,284.6L411.2,290.9L404.2,290.9Z" fill="#e83030"/>
<path d="M410.7,283.9L414.2,290.2L407.2,290.2Z" fill="#e83030"/>
<path d="M413.9,283.3L417.4,289.6L410.4,289.6Z" fill="#e83030"/>
<path d="M417.1,282.6L420.6,288.9L413.6,288.9Z" fill="#e83030"/>
<path d="M420.3,281.9L423.8,288.2L416.8,288.2Z" fill="#e83030"/>
<path d="M423.4,281.2L426.9,287.5L419.9,287.5Z" fill="#e83030"/>
<path d="M426.4,280.5L429.9,286.8L422.9,286.8Z" fill="#e83030"/>
<path d="M429.3,279.8L432.8,286.1L425.8,286.1Z" fill="#e83030"/>
<path d="M432.0,279.1L435.5,285.4L428.5,285.4Z" fill="#e83030"/>
<path d="M434.6,278.4L438.1,284.7L431.1,284.7Z" fill="#e83030"/>
<path d="M437.7,277.5L441.2,283.8L434.2,283.8Z" fill="#e83030"/>
<path d="M440.7,276.6L444.2,282.9L437.2,282.9Z" fill="#e83030"/>
<path d="M443.7,275.7L447.2,282.0L440.2,282.0Z" fill="#e83030"/>
<path d="M446.7,274.8L450.2,281.1L443.2,281.1Z" fill="#e83030"/>
<path d="M449.8,273.8L453.3,280.1L446.3,280.1Z" fill="#e83030"/>
<path d="M452.3,273.0L455.8,279.3L448.8,279.3Z" fill="#e83030"/>
<path d="M455.0,272.2L458.5,278.5L451.5,278.5Z" fill="#e83030"/>
<path d="M457.8,271.4L461.3,277.7L454.3,277.7Z" fill="#e83030"/>
<path d="M460.7,270.5L464.2,276.8L457.2,276.8Z" fill="#e83030"/>
<path d="M463.6,269.6L467.1,275.9L460.1,275.9Z" fill="#e83030"/>
<path d="M466.6,268.6L470.1,274.9L463.1,274.9Z" fill="#e83030"/>
<path d="M469.7,267.7L473.2,274.0L466.2,274.0Z" fill="#e83030"/>
<path d="M472.8,266.7L476.3,273.0L469.3,273.0Z" fill="#e83030"/>
<path d="M475.8,265.8L479.3,272.1L472.3,272.1Z" fill="#e83030"/>
<path d="M478.9,264.8L482.4,271.1L475.4,271.1Z" fill="#e83030"/>
<path d="M482.0,263.8L485.5,270.1L478.5,270.1Z" fill="#e83030"/>
<path d="M485.0,262.8L488.5,269.1L481.5,269.1Z" fill="#e83030"/>
<path d="M488.0,261.8L491.5,268.1L484.5,268.1Z" fill="#e83030"/>
<path d="M491.1,260.8L494.6,267.1L487.6,267.1Z" fill="#e83030"/>
<path d="M494.2,259.8L497.7,266.1L490.7,266.1Z" fill="#e83030"/>
<path d="M497.2,258.7L500.7,265.0L493.7,265.0Z" fill="#e83030"/>
<path d="M500.3,257.7L503.8,264.0L496.8,264.0Z" fill="#e83030"/>
<path d="M503.4,256.6L506.9,262.9L499.9,262.9Z" fill="#e83030"/>
<path d="M506.4,255.6L509.9,261.9L502.9,261.9Z" fill="#e83030"/>
<path d="M509.3,254.6L512.8,260.9L505.8,260.9Z" fill="#e83030"/>
<path d="M512.2,253.6L515.7,259.9L508.7,259.9Z" fill="#e83030"/>
<path d="M515.0,252.7L518.5,259.0L511.5,259.0Z" fill="#e83030"/>
<path d="M517.6,251.9L521.1,258.2L514.1,258.2Z" fill="#e83030"/>
<path d="M520.7,250.9L524.2,257.2L517.2,257.2Z" fill="#e83030"/>
<path d="M523.5,250.0L527.0,256.3L520.0,256.3Z" fill="#e83030"/>
<path d="M526.3,249.1L529.8,255.4L522.8,255.4Z" fill="#e83030"/>
<path d="M529.2,248.3L532.7,254.6L525.7,254.6Z" fill="#e83030"/>
<path d="M532.2,247.3L535.7,253.6L528.7,253.6Z" fill="#e83030"/>
<path d="M534.8,246.5L538.3,252.8L531.3,252.8Z" fill="#e83030"/>
<path d="M537.7,245.5L541.2,251.8L534.2,251.8Z" fill="#e83030"/>
<path d="M540.8,244.4L544.3,250.7L537.3,250.7Z" fill="#e83030"/>
<path d="M543.4,243.5L546.9,249.8L539.9,249.8Z" fill="#e83030"/>
<path d="M546.1,242.6L549.6,248.9L542.6,248.9Z" fill="#e83030"/>
<path d="M548.9,241.6L552.4,247.9L545.4,247.9Z" fill="#e83030"/>
<path d="M551.9,240.5L555.4,246.8L548.4,246.8Z" fill="#e83030"/>
<path d="M554.9,239.4L558.4,245.7L551.4,245.7Z" fill="#e83030"/>
<path d="M558.0,238.2L561.5,244.5L554.5,244.5Z" fill="#e83030"/>
<path d="M561.2,237.1L564.7,243.4L557.7,243.4Z" fill="#e83030"/>
<path d="M564.3,236.0L567.8,242.3L560.8,242.3Z" fill="#e83030"/>
<path d="M567.5,234.8L571.0,241.1L564.0,241.1Z" fill="#e83030"/>
<path d="M570.7,233.7L574.2,240.0L567.2,240.0Z" fill="#e83030"/>
<path d="M573.9,232.6L577.4,238.9L570.4,238.9Z" fill="#e83030"/>
<path d="M577.0,231.6L580.5,237.9L573.5,237.9Z" fill="#e83030"/>
<path d="M580.0,230.6L583.5,236.9L576.5,236.9Z" fill="#e83030"/>
<path d="M583.1,229.7L586.6,236.0L579.6,236.0Z" fill="#e83030"/>
<path d="M586.2,228.7L589.7,235.0L582.7,235.0Z" fill="#e83030"/>
<path d="M589.4,227.8L592.9,234.1L585.9,234.1Z" fill="#e83030"/>
<path d="M592.6,226.9L596.1,233.2L589.1,233.2Z" fill="#e83030"/>
<path d="M595.9,226.0L599.4,232.3L592.4,232.3Z" fill="#e83030"/>
<path d="M599.1,225.1L602.6,231.4L595.6,231.4Z" fill="#e83030"/>
<path d="M602.3,224.2L605.8,230.5L598.8,230.5Z" fill="#e83030"/>
<path d="M605.4,223.4L608.9,229.7L601.9,229.7Z" fill="#e83030"/>
<path d="M608.5,222.6L612.0,228.9L605.0,228.9Z" fill="#e83030"/>
<path d="M611.4,221.8L614.9,228.1L607.9,228.1Z" fill="#e83030"/>
<path d="M614.2,221.0L617.7,227.3L610.7,227.3Z" fill="#e83030"/>
<path d="M616.8,220.4L620.3,226.7L613.3,226.7Z" fill="#e83030"/>
<path d="M620.0,219.5L623.5,225.8L616.5,225.8Z" fill="#e83030"/>
<path d="M622.7,218.8L626.2,225.1L619.2,225.1Z" fill="#e83030"/>
<path d="M625.3,218.2L628.8,224.5L621.8,224.5Z" fill="#e83030"/>
<path d="M628.0,217.7L631.5,224.0L624.5,224.0Z" fill="#e83030"/>
<path d="M630.8,217.1L634.3,223.4L627.3,223.4Z" fill="#e83030"/>
<path d="M633.4,216.6L636.9,222.9L629.9,222.9Z" fill="#e83030"/>
<path d="M636.2,215.8L639.7,222.1L632.7,222.1Z" fill="#e83030"/>
<path d="M639.1,215.0L642.6,221.3L635.6,221.3Z" fill="#e83030"/>
<path d="M641.8,214.2L645.3,220.5L638.3,220.5Z" fill="#e83030"/>
<path d="M644.7,213.4L648.2,219.7L641.2,219.7Z" fill="#e83030"/>
<path d="M647.8,212.5L651.3,218.8L644.3,218.8Z" fill="#e83030"/>
<path d="M651.2,211.5L654.7,217.8L647.7,217.8Z" fill="#e83030"/>
<path d="M654.7,210.5L658.2,216.8L651.2,216.8Z" fill="#e83030"/>
<path d="M658.4,209.5L661.9,215.8L654.9,215.8Z" fill="#e83030"/>
<path d="M660.9,208.7L664.4,215.0L657.4,215.0Z" fill="#e83030"/>
<path d="M663.5,207.9L667.0,214.2L660.0,214.2Z" fill="#e83030"/>
<path d="M666.2,207.1L669.7,213.4L662.7,213.4Z" fill="#e83030"/>
<path d="M668.9,206.3L672.4,212.6L665.4,212.6Z" fill="#e83030"/>
<path d="M671.6,205.4L675.1,211.7L668.1,211.7Z" fill="#e83030"/>
<path d="M674.4,204.5L677.9,210.8L670.9,210.8Z" fill="#e83030"/>
<path d="M677.2,203.5L680.7,209.8L673.7,209.8Z" fill="#e83030"/>
<path d="M680.0,202.5L683.5,208.8L676.5,208.8Z" fill="#e83030"/>
<path d="M682.9,201.5L686.4,207.8L679.4,207.8Z" fill="#e83030"/>
<path d="M685.7,200.4L689.2,206.7L682.2,206.7Z" fill="#e83030"/>
<path d="M688.6,199.3L692.1,205.6L685.1,205.6Z" fill="#e83030"/>
<path d="M691.5,198.1L695.0,204.4L688.0,204.4Z" fill="#e83030"/>
<path d="M694.5,196.9L698.0,203.2L691.0,203.2Z" fill="#e83030"/>
<path d="M697.7,195.5L701.2,201.8L694.2,201.8Z" fill="#e83030"/>
<path d="M701.0,194.1L704.5,200.4L697.5,200.4Z" fill="#e83030"/>
<path d="M704.4,192.5L707.9,198.8L700.9,198.8Z" fill="#e83030"/>
<path d="M707.9,191.0L711.4,197.3L704.4,197.3Z" fill="#e83030"/>
<path d="M711.5,189.3L715.0,195.6L708.0,195.6Z" fill="#e83030"/>
<path d="M715.1,187.7L718.6,194.0L711.6,194.0Z" fill="#e83030"/>
<path d="M718.8,186.0L722.3,192.3L715.3,192.3Z" fill="#e83030"/>
<path d="M722.4,184.3L725.9,190.6L718.9,190.6Z" fill="#e83030"/>
<path d="M726.0,182.6L729.5,188.9L722.5,188.9Z" fill="#e83030"/>
<path d="M729.5,180.8L733.0,187.1L726.0,187.1Z" fill="#e83030"/>
<path d="M733.0,179.2L736.5,185.5L729.5,185.5Z" fill="#e83030"/>
<path d="M736.4,177.5L739.9,183.8L732.9,183.8Z" fill="#e83030"/>
<path d="M739.6,175.9L743.1,182.2L736.1,182.2Z" fill="#e83030"/>
<path d="M742.8,174.3L746.3,180.6L739.3,180.6Z" fill="#e83030"/>
<path d="M745.7,172.8L749.2,179.1L742.2,179.1Z" fill="#e83030"/>
<path d="M748.5,171.4L752.0,177.7L745.0,177.7Z" fill="#e83030"/>
<path d="M751.1,170.0L754.6,176.3L747.6,176.3Z" fill="#e83030"/>
<path d="M753.4,168.8L756.9,175.1L749.9,175.1Z" fill="#e83030"/>
<path d="M756.5,167.1L760.0,173.4L753.0,173.4Z" fill="#e83030"/>
<path d="M759.1,165.6L762.6,171.9L755.6,171.9Z" fill="#e83030"/>
<path d="M761.9,163.9L765.4,170.2L758.4,170.2Z" fill="#e83030"/>
<path d="M764.1,162.4L767.6,168.7L760.6,168.7Z" fill="#e83030"/>
<path d="M766.2,160.7L769.7,167.0L762.7,167.0Z" fill="#e83030"/>
<path d="M768.1,158.9L771.6,165.2L764.6,165.2Z" fill="#e83030"/>
<path d="M352.0,299.3C354.7,299.0 357.3,298.6 360.0,298.2C366.7,297.2 373.3,296.0 380.0,294.6C386.7,293.2 391.7,291.9 400.0,290.0C408.3,288.1 420.8,285.7 430.0,283.4C439.2,281.1 445.8,278.8 455.0,276.0C464.2,273.2 475.0,269.9 485.0,266.6C495.0,263.4 505.8,259.5 515.0,256.5C524.2,253.5 529.2,252.2 540.0,248.5C550.8,244.8 566.7,238.6 580.0,234.4C593.3,230.2 610.0,226.0 620.0,223.3C630.0,220.7 628.3,222.0 640.0,218.5C651.7,215.0 670.9,210.2 690.0,202.5C709.1,194.8 740.6,179.6 754.5,172.0C768.4,164.4 767.2,163.0 773.6,157.0C780.0,151.0 786.3,143.7 792.7,136.0C799.1,128.3 806.1,119.0 811.8,111.0C817.5,103.0 823.3,93.8 827.0,88.0C830.7,82.2 832.8,78.0 834.0,76.0" fill="none" stroke="#e81e1e" stroke-width="5.5" stroke-linejoin="round" stroke-linecap="round"/>
<path d="M735.0,182.0C742.8,178.1 749.7,174.6 754.5,172.0C768.4,164.4 767.2,163.0 773.6,157.0C780.0,151.0 786.3,143.7 792.7,136.0C799.1,128.3 806.1,119.0 811.8,111.0C817.5,103.0 823.3,93.8 827.0,88.0C830.7,82.2 832.8,78.0 834.0,76.0" fill="none" stroke="#e81e1e" stroke-width="7" stroke-linejoin="round" stroke-linecap="round"/>
<path d="M760.0,168.9C768.2,163.9 768.2,162.1 773.6,157.0C780.0,151.0 786.3,143.7 792.7,136.0C799.1,128.3 806.1,119.0 811.8,111.0C817.5,103.0 823.3,93.8 827.0,88.0C830.7,82.2 832.8,78.0 834.0,76.0" fill="none" stroke="#e81e1e" stroke-width="8" stroke-linejoin="round" stroke-linecap="round"/>
<path d="M782.0,148.4C785.6,144.5 789.1,140.3 792.7,136.0C799.1,128.3 806.1,119.0 811.8,111.0C817.5,103.0 823.3,93.8 827.0,88.0C830.7,82.2 832.8,78.0 834.0,76.0" fill="none" stroke="#e81e1e" stroke-width="9" stroke-linejoin="round" stroke-linecap="round"/>
<circle cx="286.0" cy="294.4" r="3.3" fill="#24146c"/>
<circle cx="296.1" cy="294.1" r="3.3" fill="#24146c"/>
<circle cx="304.9" cy="293.0" r="3.3" fill="#24146c"/>
<circle cx="312.4" cy="292.1" r="3.3" fill="#24146c"/>
<circle cx="319.0" cy="291.1" r="3.3" fill="#24146c"/>
<circle cx="324.8" cy="290.5" r="3.3" fill="#24146c"/>
<circle cx="329.8" cy="290.1" r="3.3" fill="#24146c"/>
<circle cx="334.5" cy="289.7" r="3.3" fill="#24146c"/>
<circle cx="338.3" cy="289.4" r="3.3" fill="#24146c"/>
<circle cx="341.9" cy="289.0" r="3.3" fill="#24146c"/>
<path d="M341.0,289.1C349.2,288.2 363.6,286.4 370.0,285.5C376.7,284.5 375.0,284.5 380.0,283.3C385.0,282.1 391.7,280.6 400.0,278.3C408.3,276.0 416.7,274.0 430.0,269.7C443.3,265.4 463.3,258.4 480.0,252.5C496.7,246.6 513.3,239.7 530.0,234.4C546.7,229.1 562.5,225.7 580.0,220.9C597.5,216.1 616.7,210.7 635.0,205.5C653.3,200.3 671.7,196.8 690.0,190.0C708.3,183.2 732.7,171.3 745.0,164.5C757.3,157.7 757.7,154.9 764.0,149.2C770.3,143.5 776.7,137.2 783.0,130.2C789.3,123.2 796.2,114.6 802.0,107.3C807.8,100.0 813.0,92.3 817.5,86.3C822.0,80.2 827.1,73.5 829.0,71.0" fill="none" stroke="#1a0e7a" stroke-width="7" stroke-linejoin="round" stroke-linecap="round"/>
<path d="M420.0,272.8C423.0,271.9 426.3,270.9 430.0,269.7C443.3,265.4 463.3,258.4 480.0,252.5C496.7,246.6 513.3,239.7 530.0,234.4C546.7,229.1 562.5,225.7 580.0,220.9C597.5,216.1 616.7,210.7 635.0,205.5C653.3,200.3 671.7,196.8 690.0,190.0C708.3,183.2 732.7,171.3 745.0,164.5C757.3,157.7 757.7,154.9 764.0,149.2C770.3,143.5 776.7,137.2 783.0,130.2C789.3,123.2 796.2,114.6 802.0,107.3C807.8,100.0 813.0,92.3 817.5,86.3C822.0,80.2 827.1,73.5 829.0,71.0" fill="none" stroke="#1a0e7a" stroke-width="7.4" stroke-linejoin="round" stroke-linecap="round"/>
<path d="M770.0,143.6C774.3,139.4 778.7,135.0 783.0,130.2C789.3,123.2 796.2,114.6 802.0,107.3C807.8,100.0 813.0,92.3 817.5,86.3C822.0,80.2 827.1,73.5 829.0,71.0" fill="none" stroke="#1a0e7a" stroke-width="8" stroke-linejoin="round" stroke-linecap="round"/>
<path d="M790.0,122.1C794.2,117.2 798.3,112.0 802.0,107.3C807.8,100.0 813.0,92.3 817.5,86.3C822.0,80.2 827.1,73.5 829.0,71.0" fill="none" stroke="#1a0e7a" stroke-width="8.5" stroke-linejoin="round" stroke-linecap="round"/>
<path d="M476.0,312.8C478.3,312.6 483.9,312.2 490.0,311.5C496.1,310.8 505.6,309.3 512.3,308.4C519.0,307.5 521.4,307.4 530.0,306.0C538.6,304.6 552.6,301.9 564.0,299.7C575.4,297.5 587.0,295.8 598.5,292.9C610.0,290.0 621.3,286.9 632.7,282.6C644.1,278.3 657.5,272.0 667.0,267.2C676.5,262.4 682.7,258.6 690.0,254.0C697.3,249.4 703.8,244.3 710.7,239.5C717.6,234.7 725.1,229.8 731.3,225.0C737.5,220.2 742.7,215.4 747.9,210.6C753.1,205.8 757.8,201.3 762.3,196.1C766.8,190.9 770.9,185.1 774.7,179.6C778.5,174.1 781.5,168.5 785.0,163.0C788.5,157.5 792.3,151.5 795.4,146.5C798.5,141.5 802.2,135.3 803.6,133.1" fill="none" stroke="#0a0a0a" stroke-width="4.8" stroke-linejoin="round" stroke-linecap="round"/>
<path d="M495.0,310.8C500.6,310.1 507.3,309.1 512.3,308.4C519.0,307.5 521.4,307.4 530.0,306.0C538.6,304.6 552.6,301.9 564.0,299.7C575.4,297.5 587.0,295.8 598.5,292.9C610.0,290.0 621.3,286.9 632.7,282.6C644.1,278.3 657.5,272.0 667.0,267.2C676.5,262.4 682.7,258.6 690.0,254.0C697.3,249.4 703.8,244.3 710.7,239.5C717.6,234.7 725.1,229.8 731.3,225.0C737.5,220.2 742.7,215.4 747.9,210.6C753.1,205.8 757.8,201.3 762.3,196.1C766.8,190.9 770.9,185.1 774.7,179.6C778.5,174.1 781.5,168.5 785.0,163.0C788.5,157.5 792.3,151.5 795.4,146.5C798.5,141.5 802.2,135.3 803.6,133.1" fill="none" stroke="#0a0a0a" stroke-width="5.6" stroke-linejoin="round" stroke-linecap="round"/>
<path d="M525.0,306.8C526.4,306.6 528.1,306.3 530.0,306.0C538.6,304.6 552.6,301.9 564.0,299.7C575.4,297.5 587.0,295.8 598.5,292.9C610.0,290.0 621.3,286.9 632.7,282.6C644.1,278.3 657.5,272.0 667.0,267.2C676.5,262.4 682.7,258.6 690.0,254.0C697.3,249.4 703.8,244.3 710.7,239.5C717.6,234.7 725.1,229.8 731.3,225.0C737.5,220.2 742.7,215.4 747.9,210.6C753.1,205.8 757.8,201.3 762.3,196.1C766.8,190.9 770.9,185.1 774.7,179.6C778.5,174.1 781.5,168.5 785.0,163.0C788.5,157.5 792.3,151.5 795.4,146.5C798.5,141.5 802.2,135.3 803.6,133.1" fill="none" stroke="#0a0a0a" stroke-width="6.5" stroke-linejoin="round" stroke-linecap="round"/>
<path d="M470.0,327.5C471.5,327.8 473.0,328.2 475.0,328.7C479.5,329.8 488.2,332.5 491.5,333.5C494.8,334.5 492.8,334.0 495.0,334.8C497.2,335.6 501.7,336.8 504.5,338.4C507.3,340.0 509.9,341.7 511.7,344.3C513.5,346.9 514.1,350.9 515.3,353.9C516.5,356.9 517.1,359.0 518.9,362.2C520.7,365.4 523.6,368.8 526.0,373.0C528.4,377.2 530.8,382.5 533.2,387.3C535.6,392.1 538.5,397.2 540.3,401.6C542.1,406.0 542.3,409.1 543.9,413.5C545.5,417.9 547.3,422.7 549.9,427.9C552.5,433.1 555.8,439.0 559.4,444.6C563.0,450.2 567.4,456.1 571.4,461.3C575.4,466.5 578.5,470.8 583.3,475.6C588.1,480.4 593.9,486.1 600.0,490.0C606.1,493.9 613.2,496.9 620.0,499.0C626.8,501.1 637.5,501.8 641.0,502.3" fill="none" stroke="#0a0a0a" stroke-width="5" stroke-linejoin="round" stroke-linecap="round"/>
<path d="M500.0,336.5C501.6,337.0 503.2,337.7 504.5,338.4C507.3,340.0 509.9,341.7 511.7,344.3C513.5,346.9 514.1,350.9 515.3,353.9C516.5,356.9 517.1,359.0 518.9,362.2C520.7,365.4 523.6,368.8 526.0,373.0C528.4,377.2 530.8,382.5 533.2,387.3C535.6,392.1 538.5,397.2 540.3,401.6C542.1,406.0 542.3,409.1 543.9,413.5C545.5,417.9 547.3,422.7 549.9,427.9C552.5,433.1 555.8,439.0 559.4,444.6C563.0,450.2 567.4,456.1 571.4,461.3C575.4,466.5 578.5,470.8 583.3,475.6C588.1,480.4 593.9,486.1 600.0,490.0C606.1,493.9 613.2,496.9 620.0,499.0C626.8,501.1 637.5,501.8 641.0,502.3" fill="none" stroke="#0a0a0a" stroke-width="6.2" stroke-linejoin="round" stroke-linecap="round"/>
<circle cx="418.0" cy="322.8" r="2.6" fill="#222"/>
<circle cx="423.3" cy="323.2" r="2.6" fill="#222"/>
<circle cx="428.4" cy="323.6" r="2.6" fill="#222"/>
<circle cx="433.4" cy="324.0" r="2.6" fill="#222"/>
<circle cx="438.5" cy="324.5" r="2.6" fill="#222"/>
<circle cx="443.6" cy="325.0" r="2.6" fill="#222"/>
<circle cx="448.7" cy="325.3" r="2.6" fill="#222"/>
<circle cx="453.8" cy="325.5" r="2.6" fill="#222"/>
<circle cx="458.8" cy="325.9" r="2.6" fill="#222"/>
<circle cx="463.9" cy="326.5" r="2.6" fill="#222"/>
<circle cx="468.8" cy="327.3" r="2.6" fill="#222"/>
<circle cx="416.0" cy="316.3" r="3.2" fill="#222"/>
<circle cx="421.3" cy="316.0" r="2.6" fill="#222"/>
<circle cx="426.6" cy="315.7" r="2.6" fill="#222"/>
<circle cx="431.9" cy="315.4" r="2.6" fill="#222"/>
<circle cx="437.2" cy="315.1" r="2.6" fill="#222"/>
<circle cx="442.5" cy="314.9" r="2.6" fill="#222"/>
<circle cx="447.8" cy="314.6" r="2.6" fill="#222"/>
<circle cx="453.1" cy="314.3" r="2.6" fill="#222"/>
<circle cx="458.4" cy="314.0" r="2.6" fill="#222"/>
<circle cx="463.7" cy="313.7" r="2.6" fill="#222"/>
<circle cx="469.0" cy="313.4" r="2.6" fill="#222"/>
<circle cx="474.3" cy="313.1" r="2.6" fill="#222"/>
<circle cx="649.3" cy="502.5" r="3.5" fill="#1a2424"/>
<circle cx="197.5" cy="319.4" r="3.5" fill="#1a2424"/>
<circle cx="249.4" cy="318.9" r="3.5" fill="#1a2424"/>
<circle cx="257" cy="319.9" r="3.5" fill="#1a2424"/>
<circle cx="312.6" cy="320.3" r="3.5" fill="#1a2424"/>
<polygon points="115.4,288.1 116.4,290.6 119.1,290.8 117.1,292.5 117.7,295.2 115.4,293.8 113.1,295.2 113.7,292.5 111.7,290.8 114.4,290.6" fill="#6a4646"/>
<polygon points="164.0,290.1 165.0,292.6 167.7,292.8 165.7,294.5 166.3,297.2 164.0,295.8 161.7,297.2 162.3,294.5 160.3,292.8 163.0,292.6" fill="#6a4646"/>
<polygon points="193.2,286.7 194.2,289.2 196.9,289.4 194.9,291.1 195.5,293.8 193.2,292.4 190.9,293.8 191.5,291.1 189.5,289.4 192.2,289.2" fill="#6a4646"/>
<polygon points="214.5,285.7 215.5,288.2 218.2,288.4 216.2,290.1 216.8,292.8 214.5,291.4 212.2,292.8 212.8,290.1 210.8,288.4 213.5,288.2" fill="#6a4646"/>
<polygon points="231.0,285.7 232.0,288.2 234.7,288.4 232.7,290.1 233.3,292.8 231.0,291.4 228.7,292.8 229.3,290.1 227.3,288.4 230.0,288.2" fill="#6a4646"/>
<polygon points="244.7,284.8 245.7,287.3 248.4,287.5 246.4,289.2 247.0,291.9 244.7,290.5 242.4,291.9 243.0,289.2 241.0,287.5 243.7,287.3" fill="#6a4646"/>
<circle cx="115.9" cy="299.1" r="3.9" fill="#2a1460"/>
<circle cx="223" cy="297.7" r="3.9" fill="#2a1460"/>
<circle cx="243.3" cy="300" r="3.9" fill="#2a1460"/>
<circle cx="248.5" cy="296.2" r="3.9" fill="#2a1460"/>
<circle cx="259.3" cy="302.4" r="3.9" fill="#2a1460"/>
<circle cx="262" cy="300.5" r="3.9" fill="#2a1460"/>
<circle cx="273.9" cy="295.3" r="3.9" fill="#2a1460"/>
<circle cx="275.3" cy="302.4" r="3.9" fill="#2a1460"/>
<circle cx="398.5" cy="316.5" r="3.9" fill="#2a1460"/>
<circle cx="410.7" cy="321.8" r="3.9" fill="#2a1460"/>
<circle cx="156.5" cy="299.7" r="3.7" fill="#3a3a90"/>
<circle cx="207.9" cy="300" r="3.7" fill="#3a3a90"/>
<path d="M127.2,294.1L131.5,298.4L127.2,302.7L122.9,298.4Z" fill="#8e3030"/>
<path d="M190.0,294.7L194.3,299.0L190.0,303.3L185.7,299.0Z" fill="#8e3030"/>
<path d="M194.0,291.7L198.3,296.0L194.0,300.3L189.7,296.0Z" fill="#8e3030"/>
<path d="M229.0,292.4L233.3,296.7L229.0,301.0L224.7,296.7Z" fill="#8e3030"/>
<path d="M232.0,296.2L236.3,300.5L232.0,304.8L227.7,300.5Z" fill="#8e3030"/>
<path d="M253.7,295.7L258.0,300.0L253.7,304.3L249.4,300.0Z" fill="#8e3030"/>
<path d="M256.0,296.2L260.3,300.5L256.0,304.8L251.7,300.5Z" fill="#8e3030"/>
<path d="M269.2,298.1L273.5,302.4L269.2,306.7L264.9,302.4Z" fill="#8e3030"/>
<path d="M159.0,306.3L162.8,313.1L155.2,313.1Z" fill="#d84848"/>
<path d="M207.4,306.8L211.2,313.6L203.7,313.6Z" fill="#d84848"/>
<path d="M215.9,305.4L219.7,312.2L212.2,312.2Z" fill="#d84848"/>
<path d="M245.2,306.3L248.9,313.1L241.4,313.1Z" fill="#d84848"/>
<path d="M262.6,303.9L266.4,310.7L258.9,310.7Z" fill="#d84848"/>
<path d="M266.3,308.8L270.1,315.5L262.6,315.5Z" fill="#d84848"/>
<path d="M542.0,514.0C543.2,514.8 546.5,517.7 549.0,519.0C551.5,520.3 555.7,521.5 557.0,522.0" fill="none" stroke="#e81e1e" stroke-width="5" stroke-linejoin="round" stroke-linecap="round" />
<path d="M550.0,497.8L553.2,501.0L550.0,504.2L546.8,501.0Z" fill="#8c2424"/>
<path d="M555.0,501.8L558.2,505.0L555.0,508.2L551.8,505.0Z" fill="#8c2424"/>
<path d="M559.0,505.8L562.2,509.0L559.0,512.2L555.8,509.0Z" fill="#8c2424"/>
<path d="M563.0,509.8L566.2,513.0L563.0,516.2L559.8,513.0Z" fill="#8c2424"/>
<path d="M566.0,512.8L569.2,516.0L566.0,519.2L562.8,516.0Z" fill="#8c2424"/>
<path d="M553.0,513.8L556.2,517.0L553.0,520.2L549.8,517.0Z" fill="#8c2424"/>
<path d="M558.0,515.8L561.2,519.0L558.0,522.2L554.8,519.0Z" fill="#8c2424"/>
<polygon points="552.0,495.7 552.9,497.8 555.1,498.0 553.4,499.5 553.9,501.7 552.0,500.5 550.1,501.7 550.6,499.5 548.9,498.0 551.1,497.8" fill="#8a4040"/>
<polygon points="561.0,503.7 561.9,505.8 564.1,506.0 562.4,507.5 562.9,509.7 561.0,508.5 559.1,509.7 559.6,507.5 557.9,506.0 560.1,505.8" fill="#8a4040"/>
<polygon points="564.0,514.7 564.9,516.8 567.1,517.0 565.4,518.5 565.9,520.7 564.0,519.5 562.1,520.7 562.6,518.5 560.9,517.0 563.1,516.8" fill="#8a4040"/>
<circle cx="551.5" cy="512" r="3" fill="#2a1a70"/>
<line x1="552.3" y1="300" x2="541.9" y2="194.9" stroke="#000" stroke-width="2.2"/><path d="M540.5,181.0L546.5,194.5L537.3,195.4Z" fill="#000"/>
<line x1="583" y1="234" x2="579.7" y2="137.0" stroke="#000" stroke-width="2.2"/><path d="M579.2,123.0L584.3,136.8L575.1,137.1Z" fill="#000"/>
<line x1="629.3" y1="184" x2="625.1" y2="78.5" stroke="#000" stroke-width="2.2"/><path d="M624.5,64.5L629.7,78.3L620.5,78.7Z" fill="#000"/>
<line x1="723.5" y1="167" x2="720.0" y2="120.0" stroke="#000" stroke-width="2.2"/><path d="M719.0,106.0L724.6,119.6L715.4,120.3Z" fill="#000"/>
<line x1="754.3" y1="157" x2="750.8" y2="60.0" stroke="#000" stroke-width="2.2"/><path d="M750.3,46.0L755.4,59.8L746.2,60.2Z" fill="#000"/>
<rect x="104.4" y="18.2" width="738.4" height="518.4" fill="none" stroke="#000" stroke-width="4.2"/>
<line x1="94" y1="18.2" x2="104.4" y2="18.2" stroke="#000" stroke-width="3.6" stroke-linecap="round"/>
<line x1="99.3" y1="55.2" x2="104.4" y2="55.2" stroke="#000" stroke-width="3.6" stroke-linecap="round"/>
<line x1="94" y1="92.2" x2="104.4" y2="92.2" stroke="#000" stroke-width="3.6" stroke-linecap="round"/>
<line x1="99.3" y1="129.2" x2="104.4" y2="129.2" stroke="#000" stroke-width="3.6" stroke-linecap="round"/>
<line x1="94" y1="166.2" x2="104.4" y2="166.2" stroke="#000" stroke-width="3.6" stroke-linecap="round"/>
<line x1="99.3" y1="203.2" x2="104.4" y2="203.2" stroke="#000" stroke-width="3.6" stroke-linecap="round"/>
<line x1="94" y1="240.2" x2="104.4" y2="240.2" stroke="#000" stroke-width="3.6" stroke-linecap="round"/>
<line x1="99.3" y1="277.2" x2="104.4" y2="277.2" stroke="#000" stroke-width="3.6" stroke-linecap="round"/>
<line x1="94" y1="314.2" x2="104.4" y2="314.2" stroke="#000" stroke-width="3.6" stroke-linecap="round"/>
<line x1="99.3" y1="351.2" x2="104.4" y2="351.2" stroke="#000" stroke-width="3.6" stroke-linecap="round"/>
<line x1="94" y1="388.2" x2="104.4" y2="388.2" stroke="#000" stroke-width="3.6" stroke-linecap="round"/>
<line x1="99.3" y1="425.2" x2="104.4" y2="425.2" stroke="#000" stroke-width="3.6" stroke-linecap="round"/>
<line x1="94" y1="462.2" x2="104.4" y2="462.2" stroke="#000" stroke-width="3.6" stroke-linecap="round"/>
<line x1="99.3" y1="499.2" x2="104.4" y2="499.2" stroke="#000" stroke-width="3.6" stroke-linecap="round"/>
<line x1="94" y1="536.2" x2="104.4" y2="536.2" stroke="#000" stroke-width="3.6" stroke-linecap="round"/>
<text x="86" y="24.7" text-anchor="end" class="t">-0.3</text>
<text x="86" y="98.7" text-anchor="end" class="t">-0.4</text>
<text x="86" y="172.7" text-anchor="end" class="t">-0.5</text>
<text x="86" y="246.7" text-anchor="end" class="t">-0.6</text>
<text x="86" y="320.7" text-anchor="end" class="t">-0.7</text>
<text x="86" y="394.7" text-anchor="end" class="t">-0.8</text>
<text x="86" y="468.7" text-anchor="end" class="t">-0.9</text>
<text x="86" y="542.7" text-anchor="end" class="t">-1.0</text>
<line x1="187.2" y1="536.6" x2="187.2" y2="549" stroke="#000" stroke-width="4" stroke-linecap="round"/>
<text x="187.2" y="578" text-anchor="middle" class="t">1E-6</text>
<line x1="334.9" y1="536.6" x2="334.9" y2="549" stroke="#000" stroke-width="4" stroke-linecap="round"/>
<text x="334.9" y="578" text-anchor="middle" class="t">1E-5</text>
<line x1="482.6" y1="536.6" x2="482.6" y2="549" stroke="#000" stroke-width="4" stroke-linecap="round"/>
<text x="482.6" y="578" text-anchor="middle" class="t">1E-4</text>
<line x1="630.3" y1="536.6" x2="630.3" y2="549" stroke="#000" stroke-width="4" stroke-linecap="round"/>
<text x="630.3" y="578" text-anchor="middle" class="t">1E-3</text>
<line x1="778.0" y1="536.6" x2="778.0" y2="549" stroke="#000" stroke-width="4" stroke-linecap="round"/>
<text x="778.0" y="578" text-anchor="middle" class="t">0.01</text>
<text x="446" y="619" text-anchor="middle" class="t">Current density (A/cm<tspan font-size="17" dy="-13">2</tspan><tspan dy="13">)</tspan></text>
<text transform="translate(21,294.6) rotate(-90) scale(0.957,1)" text-anchor="middle" class="t">E Vs SCE (V)</text>
<text transform="translate(573.5,47) scale(1.09,1)" class="s">75ppm</text>
<text transform="translate(719.2,45.5) scale(1.09,1)" class="s">25ppm</text>
<text transform="translate(652.7,96.8) scale(1.09,1)" class="s">50ppm</text>
<text transform="translate(509.2,118.3) scale(1.09,1)" class="s">100ppm</text>
<text transform="translate(495,178.5) scale(1.09,1)" class="s">Blank</text>
</svg>
</body></html>
